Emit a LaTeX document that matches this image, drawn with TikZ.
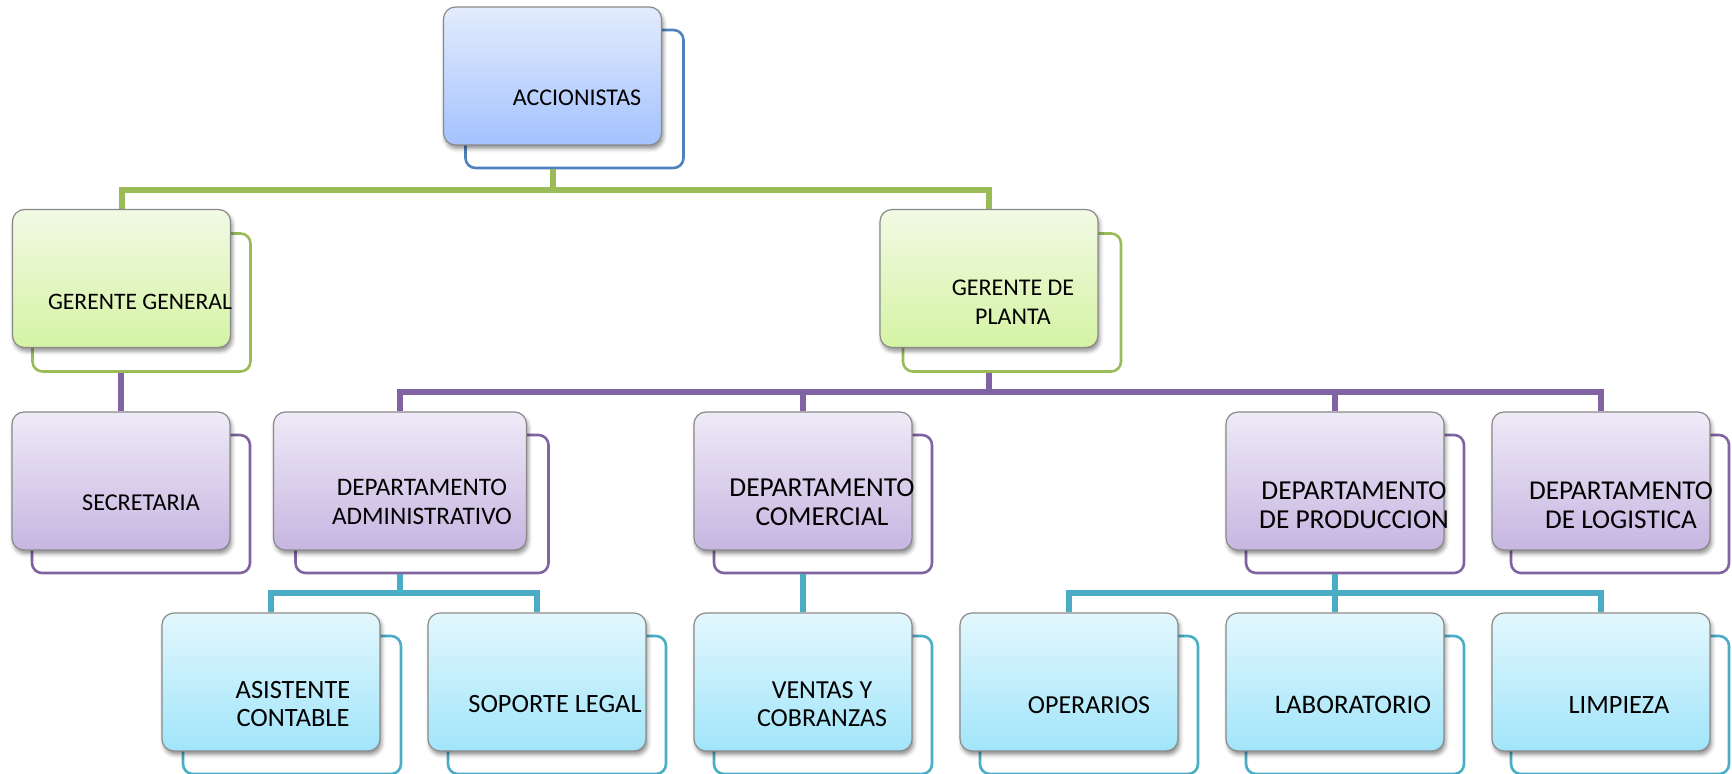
\documentclass[tikz,border=0pt]{standalone}
\usepackage{fontspec}
\setmainfont{Carlito}
\usetikzlibrary{shadows.blur,backgrounds}

\definecolor{lineblue}{HTML}{4F81BD}
\definecolor{linegreen}{HTML}{9BBB59}
\definecolor{linepurple}{HTML}{8064A2}
\definecolor{linecyan}{HTML}{4BACC6}
\definecolor{boxedge}{HTML}{8A8A8A}
\definecolor{bluetop}{HTML}{E3ECFD}
\definecolor{bluebot}{HTML}{A4C2FE}
\definecolor{greentop}{HTML}{F2FAE4}
\definecolor{greenbot}{HTML}{D5F3A4}
\definecolor{purpletop}{HTML}{EFEAF7}
\definecolor{purplebot}{HTML}{C6B6E1}
\definecolor{cyantop}{HTML}{E3F7FD}
\definecolor{cyanbot}{HTML}{A1E5FA}

\tikzset{
  unitbox/.style={rectangle, rounded corners=6pt, minimum width=109pt,
    minimum height=69pt, inner sep=0pt},
  card/.style={unitbox, draw=boxedge, line width=0.6pt,
    blur shadow={shadow xshift=0.8pt, shadow yshift=-1.8pt,
      shadow blur radius=2pt, shadow opacity=45}},
  bluecard/.style={card, top color=bluetop, bottom color=bluebot},
  greencard/.style={card, top color=greentop, bottom color=greenbot},
  purplecard/.style={card, top color=purpletop, bottom color=purplebot},
  cyancard/.style={card, top color=cyantop, bottom color=cyanbot},
  backframe/.style={unitbox, draw=#1, line width=1.3pt, rounded corners=5pt},
  cardtext/.style={font=\fontsize{#1}{14.3}\selectfont, align=center,
    inner sep=0pt, text=black},
  cardtext/.default=13,
  linkline/.style={draw=#1, line width=3pt},
}

\begin{document}
\begin{tikzpicture}[x=0.5pt, y=-0.5pt]
\useasboundingbox (0,0) rectangle (1732,774);

% ---- cards ----
\node[bluecard] (acc) at (552.5,76) {};
\node[greencard] (gg) at (121.5,278.5) {};
\node[greencard] (gp) at (989,278.5) {};
\node[purplecard] (sec) at (121,481) {};
\node[purplecard, minimum width=126.5pt] (adm) at (400,481) {};
\node[purplecard] (com) at (803,481) {};
\node[purplecard] (prod) at (1335,481) {};
\node[purplecard] (log) at (1601,481) {};
\node[cyancard] (asis) at (271,682) {};
\node[cyancard] (sop) at (537,682) {};
\node[cyancard] (ven) at (803,682) {};
\node[cyancard] (ope) at (1069,682) {};
\node[cyancard] (lab) at (1335,682) {};
\node[cyancard] (lim) at (1601,682) {};

% ---- labels ----
\node[cardtext=12] (acc-t) at (577,98) {ACCIONISTAS};
\node[cardtext=11.8] (gg-t) at (140,302) {GERENTE GENERAL};
\node[cardtext=12] (gp-t) at (1013,302.5) {GERENTE DE\\PLANTA};
\node[cardtext=12.1] (sec-t) at (141,503) {SECRETARIA};
\node[cardtext=12.6] (adm-t) at (422,502) {DEPARTAMENTO\\ADMINISTRATIVO};
\node[cardtext=13.7] (com-t) at (822,502.5) {DEPARTAMENTO\\COMERCIAL};
\node[cardtext=13.7] (prod-t) at (1354,505) {DEPARTAMENTO\\DE PRODUCCION};
\node[cardtext=13.6] (log-t) at (1621,505) {DEPARTAMENTO\\DE LOGISTICA};
\node[cardtext=13.2] (asis-t) at (293,704) {ASISTENTE\\CONTABLE};
\node[cardtext=13.2] (sop-t) at (555,704) {SOPORTE LEGAL};
\node[cardtext=13] (ven-t) at (822,704) {VENTAS Y\\COBRANZAS};
\node[cardtext=13] (ope-t) at (1089,705) {OPERARIOS};
\node[cardtext=13.4] (lab-t) at (1353,705) {LABORATORIO};
\node[cardtext=13.2] (lim-t) at (1619,705) {LIMPIEZA};

\begin{pgfonlayer}{background}
% ---- offset outline frames behind each card ----
\node[backframe=lineblue] (acc-f) at ([shift={(22,23)}]acc.center) {};
\node[backframe=linegreen] (gg-f) at ([shift={(20,24)}]gg.center) {};
\node[backframe=linegreen] (gp-f) at ([shift={(23,24)}]gp.center) {};
\node[backframe=linepurple] (sec-f) at ([shift={(20,23)}]sec.center) {};
\node[backframe=linepurple, minimum width=126.5pt] (adm-f) at ([shift={(22,23)}]adm.center) {};
\node[backframe=linepurple] (com-f) at ([shift={(20,23)}]com.center) {};
\node[backframe=linepurple] (prod-f) at ([shift={(20,23)}]prod.center) {};
\node[backframe=linepurple] (log-f) at ([shift={(19,23)}]log.center) {};
\node[backframe=linecyan] (asis-f) at ([shift={(21,23)}]asis.center) {};
\node[backframe=linecyan] (sop-f) at ([shift={(20,23)}]sop.center) {};
\node[backframe=linecyan] (ven-f) at ([shift={(20,23)}]ven.center) {};
\node[backframe=linecyan] (ope-f) at ([shift={(20,23)}]ope.center) {};
\node[backframe=linecyan] (lab-f) at ([shift={(20,23)}]lab.center) {};
\node[backframe=linecyan] (lim-f) at ([shift={(19,23)}]lim.center) {};

% ---- connector buses ----
\coordinate (busA) at (0,190);
\coordinate (busB) at (0,392);
\coordinate (busC) at (0,593);

\draw[linkline=linegreen] (acc.south |- acc-f.south) -- (acc.south |- busA);
\draw[linkline=linegreen] (gg.north) -- (gg.north |- busA) -| (gp.north);

\draw[linkline=linepurple] (sec.north |- gg-f.south) -- (sec.north);
\draw[linkline=linepurple] (gp.south |- gp-f.south) -- (gp.south |- busB);
\draw[linkline=linepurple] (adm.north) -- (adm.north |- busB) -| (log.north);
\draw[linkline=linepurple] (com.north) -- (com.north |- busB);
\draw[linkline=linepurple] (prod.north) -- (prod.north |- busB);

\draw[linkline=linecyan] (adm.south |- adm-f.south) -- (adm.south |- busC);
\draw[linkline=linecyan] (asis.north) -- (asis.north |- busC) -| (sop.north);
\draw[linkline=linecyan] (ven.north |- com-f.south) -- (ven.north);
\draw[linkline=linecyan] (prod.south |- prod-f.south) -- (prod.south |- busC);
\draw[linkline=linecyan] (ope.north) -- (ope.north |- busC) -| (lim.north);
\draw[linkline=linecyan] (lab.north) -- (lab.north |- busC);
\end{pgfonlayer}
\end{tikzpicture}
\end{document}
